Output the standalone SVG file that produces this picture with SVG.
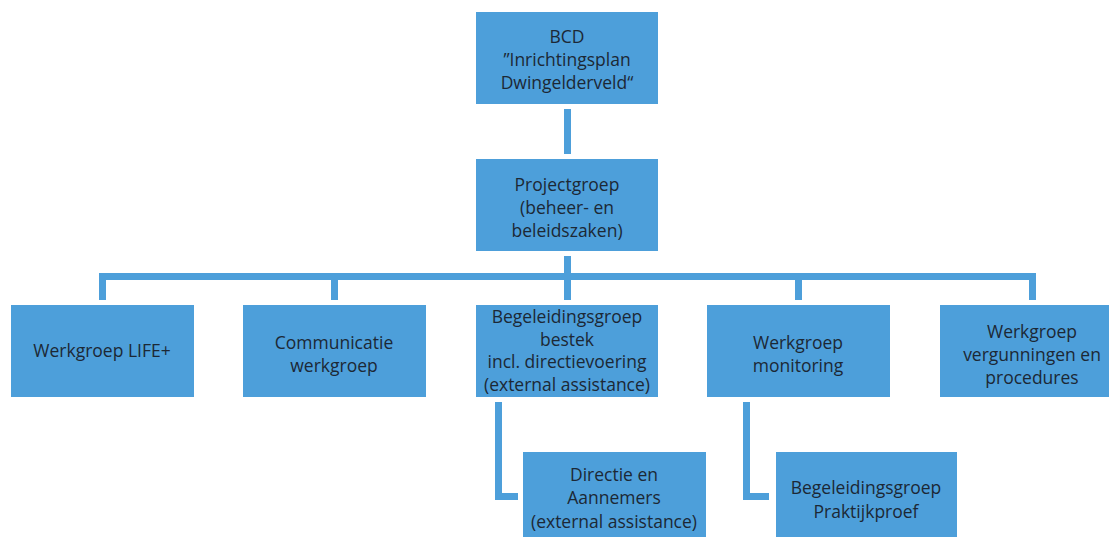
<svg xmlns="http://www.w3.org/2000/svg" width="1109" height="537" viewBox="0 0 1109 537">
<style>
.box{fill:#4d9fda}
.t{font-family:"Open Sans","Noto Sans",sans-serif;font-size:17.5px;fill:#1c2835;text-anchor:middle}
.c{fill:#4d9fda}
</style>
<rect width="1109" height="537" fill="#ffffff"/>
<g id="connectors">
<rect class="c" x="564" y="109" width="7" height="45"/>
<rect class="c" x="564" y="256" width="7" height="44"/>
<rect class="c" x="99" y="273" width="937" height="7"/>
<rect class="c" x="99" y="273" width="7" height="27"/>
<rect class="c" x="331" y="273" width="7" height="27"/>
<rect class="c" x="795" y="273" width="7" height="27"/>
<rect class="c" x="1029" y="273" width="7" height="27"/>
<rect class="c" x="495" y="402" width="7" height="98"/>
<rect class="c" x="495" y="493" width="23" height="7"/>
<rect class="c" x="743" y="402" width="7" height="98"/>
<rect class="c" x="743" y="493" width="26" height="7"/>
</g>
<g id="bcd">
<rect class="box" x="476" y="12" width="182" height="92"/>
<text class="t" x="567" y="43">BCD</text>
<text class="t" x="567" y="66">”Inrichtingsplan</text>
<text class="t" x="567" y="89">Dwingelderveld“</text>
</g>
<g id="projectgroep">
<rect class="box" x="476" y="159" width="182" height="92"/>
<text class="t" x="567" y="191">Projectgroep</text>
<text class="t" x="567" y="214">(beheer- en</text>
<text class="t" x="567" y="237">beleidszaken)</text>
</g>
<g id="life">
<rect class="box" x="11" y="305" width="183" height="92"/>
<text class="t" x="102" y="357">Werkgroep LIFE+</text>
</g>
<g id="communicatie">
<rect class="box" x="243" y="305" width="183" height="92"/>
<text class="t" x="334" y="349">Communicatie</text>
<text class="t" x="334" y="372">werkgroep</text>
</g>
<g id="begeleiding">
<rect class="box" x="476" y="305" width="182" height="92"/>
<text class="t" x="567" y="323">Begeleidingsgroep</text>
<text class="t" x="567" y="346">bestek</text>
<text class="t" x="567" y="368">incl. directievoering</text>
<text class="t" x="567" y="391">(external assistance)</text>
</g>
<g id="monitoring">
<rect class="box" x="707" y="305" width="183" height="92"/>
<text class="t" x="798" y="349">Werkgroep</text>
<text class="t" x="798" y="372">monitoring</text>
</g>
<g id="vergunningen">
<rect class="box" x="940" y="305" width="169" height="92"/>
<text class="t" x="1032" y="338">Werkgroep</text>
<text class="t" x="1032" y="361">vergunningen en</text>
<text class="t" x="1032" y="384">procedures</text>
</g>
<g id="directie">
<rect class="box" x="523" y="452" width="183" height="90"/>
<text class="t" x="614" y="481">Directie en</text>
<text class="t" x="614" y="504">Aannemers</text>
<text class="t" x="614" y="528">(external assistance)</text>
</g>
<g id="praktijkproef">
<rect class="box" x="776" y="452" width="181" height="90"/>
<text class="t" x="866" y="494">Begeleidingsgroep</text>
<text class="t" x="866" y="518">Praktijkproef</text>
</g>
</svg>
